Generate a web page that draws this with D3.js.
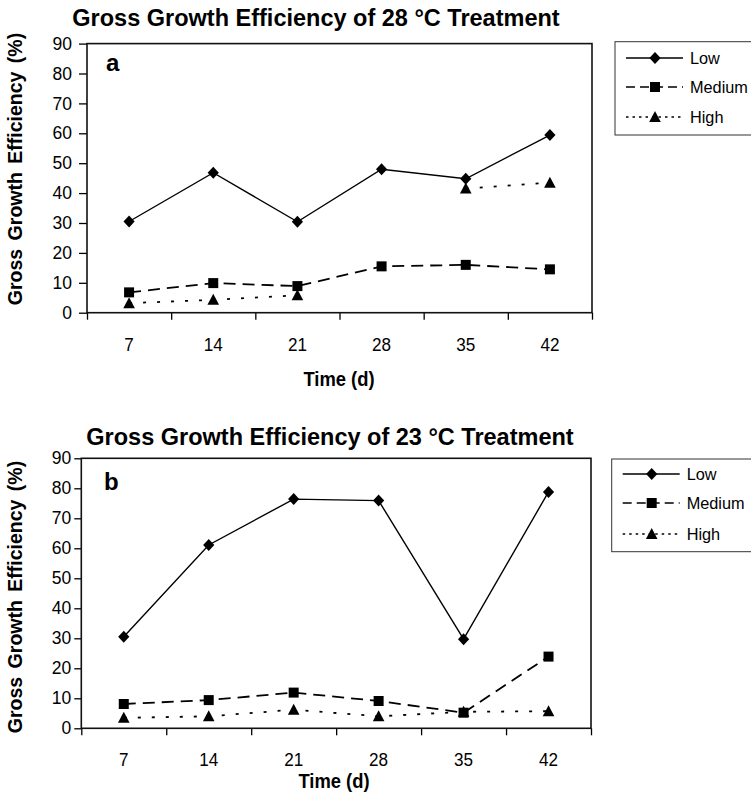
<!DOCTYPE html>
<html>
<head>
<meta charset="utf-8">
<script src="https://cdn.jsdelivr.net/npm/d3@7"></script>
<style>
  body { margin: 0; background: #fff; }
  text { font-family: "Liberation Sans", Arial, sans-serif; fill: #000; }
</style>
</head>
<body>
<div id="chart"></div>
<script>
// data
const days = ["7", "14", "21", "28", "35", "42"];
const yTicks = [0, 10, 20, 30, 40, 50, 60, 70, 80, 90];
const seriesNames = ["Low", "Medium", "High"];

const low28 = [30.5, 46.8, 30.4, 48.0, 44.8, 59.4];
const medium28 = [6.8, 9.9, 8.9, 15.5, 16.0, 14.5];
const high28 = [3.2, 4.3, 5.8, null, 41.5, 43.5];

const low23 = [30.5, 61.1, 76.4, 75.9, 29.7, 78.8];
const medium23 = [8.1, 9.4, 11.9, 9.1, 5.2, 23.9];
const high23 = [3.5, 4.0, 6.2, 4.0, 5.5, 5.7];

const svg = d3.select("#chart").append("svg")
    .attr("width", 751)
    .attr("height", 796);

// marker shapes
function marker(g, kind, x, y) {
    if (kind == "Low") {
        g.append("path").attr("d", `M${x},${y-6}L${x+5.6},${y}L${x},${y+6}L${x-5.6},${y}Z`).attr("fill", "#000");
    } else if (kind == "Medium") {
        g.append("rect").attr("x", x-5).attr("y", y-5).attr("width", 10).attr("height", 10).attr("fill", "#000");
    } else {
        g.append("path").attr("d", `M${x},${y-6}L${x+5.8},${y+5}L${x-5.8},${y+5}Z`).attr("fill", "#000");
    }
}

const dashes = { Low: null, Medium: "12,7", High: "3,11" };

function drawPanel(p) {
    const g = svg.append("g");

    const x = d3.scaleBand().domain(days).range([p.left, p.right]).padding(0);
    const xEdges = d3.scaleLinear().domain([0, days.length]).range([p.left, p.right]);
    const y = d3.scaleLinear().domain([0, 90]).range([p.bottom, p.top]);

    // y axis
    const ya = g.append("g")
        .attr("transform", `translate(${p.left},0)`)
        .call(d3.axisLeft(y).tickValues(yTicks).tickSize(p.yTick).tickPadding(p.yPad));
    ya.select(".domain").remove();
    ya.selectAll("line").attr("stroke", "#000").attr("stroke-width", 1.3);
    ya.selectAll("text").style("font-size", "17.5px").attr("fill", "#000");

    // x axis: ticks at category edges, labels at centres
    const xe = g.append("g")
        .attr("transform", `translate(0,${p.bottom})`)
        .call(d3.axisBottom(xEdges).tickValues(d3.range(0, days.length + 1)).tickFormat("").tickSizeInner(7).tickSizeOuter(0));
    xe.select(".domain").remove();
    xe.selectAll("line").attr("stroke", "#000").attr("stroke-width", 1.3);

    const xl = g.append("g")
        .attr("transform", `translate(0,${p.bottom})`)
        .call(d3.axisBottom(x).tickSize(0).tickPadding(0));
    xl.select(".domain").remove();
    xl.selectAll("text")
        .attr("dy", null)
        .attr("y", p.xLabelY)
        .attr("transform", "scale(0.9,1)")
        .style("font-size", "19px")
        .attr("fill", "#000");
    xl.selectAll(".tick").attr("transform", d => `translate(${x(d) + x.bandwidth() / 2},0)`);

    // plot frame
    g.append("rect")
        .attr("x", p.left).attr("y", p.top)
        .attr("width", p.right - p.left).attr("height", p.bottom - p.top)
        .attr("fill", "none").attr("stroke", "#111").attr("stroke-width", 1.6);

    // series
    const series = [p.low, p.medium, p.high];
    series.forEach((vals, i) => {
        const name = seriesNames[i];
        const pts = days.map((d, j) => ({ d: d, v: vals[j] }));
        const line = d3.line()
            .defined(o => o.v != null)
            .x(o => x(o.d) + x.bandwidth() / 2)
            .y(o => y(o.v));
        g.append("path")
            .attr("d", line(pts))
            .attr("fill", "none")
            .attr("stroke", "#000")
            .attr("stroke-width", name == "Low" ? 1.4 : 1.8)
            .attr("stroke-dasharray", dashes[name]);
        pts.filter(o => o.v != null).forEach(o => {
            marker(g, name, x(o.d) + x.bandwidth() / 2, y(o.v));
        });
    });

    // panel letter
    g.append("text").attr("x", p.letterX).attr("y", p.letterY)
        .style("font-size", "24px").style("font-weight", "bold").text(p.letter);

    // title
    g.append("text").attr("x", p.titleX).attr("y", p.titleY)
        .attr("text-anchor", "middle")
        .style("font-size", "23.5px").style("font-weight", "bold")
        .text(p.title);

    // y label
    g.append("text")
        .attr("transform", `translate(22,${p.yLabelCY}) rotate(-90)`)
        .attr("text-anchor", "middle")
        .style("font-size", "19.5px").style("font-weight", "bold")
        .style("word-spacing", "3px")
        .text("Gross Growth Efficiency (%)");

    // x label
    g.append("text")
        .attr("transform", `translate(${p.xTitleX},${p.xTitleY}) scale(0.92,1)`)
        .attr("text-anchor", "middle")
        .style("font-size", "20px").style("font-weight", "bold")
        .text("Time (d)");

    // legend
    const lg = g.append("g");
    lg.append("rect")
        .attr("x", p.legX).attr("y", p.legY)
        .attr("width", 760 - p.legX).attr("height", p.legH)
        .attr("fill", "#fff").attr("stroke", "#333").attr("stroke-width", 1);
    seriesNames.forEach((name, i) => {
        const cy = p.legItems[i];
        lg.append("line")
            .attr("x1", p.legX + 11).attr("x2", p.legX + 68)
            .attr("y1", cy).attr("y2", cy)
            .attr("stroke", "#000").attr("stroke-width", 1.3)
            .attr("stroke-dasharray", name == "Low" ? null : (name == "Medium" ? "9,5" : "2.5,4"));
        marker(lg, name, p.legX + 40, cy);
        lg.append("text")
            .attr("x", p.legX + 75).attr("y", cy + 6)
            .style("font-size", "16.3px")
            .text(name);
    });
}

drawPanel({
    left: 87, right: 592, top: 43.6, bottom: 312.7,
    yTick: 8, yPad: 7, xLabelY: 38,
    low: low28, medium: medium28, high: high28,
    letter: "a", letterX: 106, letterY: 71,
    title: "Gross Growth Efficiency of 28 °C Treatment", titleX: 316, titleY: 26,
    yLabelCY: 169, xTitleX: 339, xTitleY: 386,
    legX: 615, legY: 41.7, legH: 93.3, legItems: [58, 87, 117]
});

drawPanel({
    left: 81.3, right: 591, top: 458.3, bottom: 728.3,
    yTick: 7, yPad: 3, xLabelY: 38,
    low: low23, medium: medium23, high: high23,
    letter: "b", letterX: 104, letterY: 490,
    title: "Gross Growth Efficiency of 23 °C Treatment", titleX: 330, titleY: 445,
    yLabelCY: 597, xTitleX: 334, xTitleY: 788,
    legX: 611.7, legY: 459, legH: 92.7, legItems: [474, 503, 534]
});
</script>
</body>
</html>
